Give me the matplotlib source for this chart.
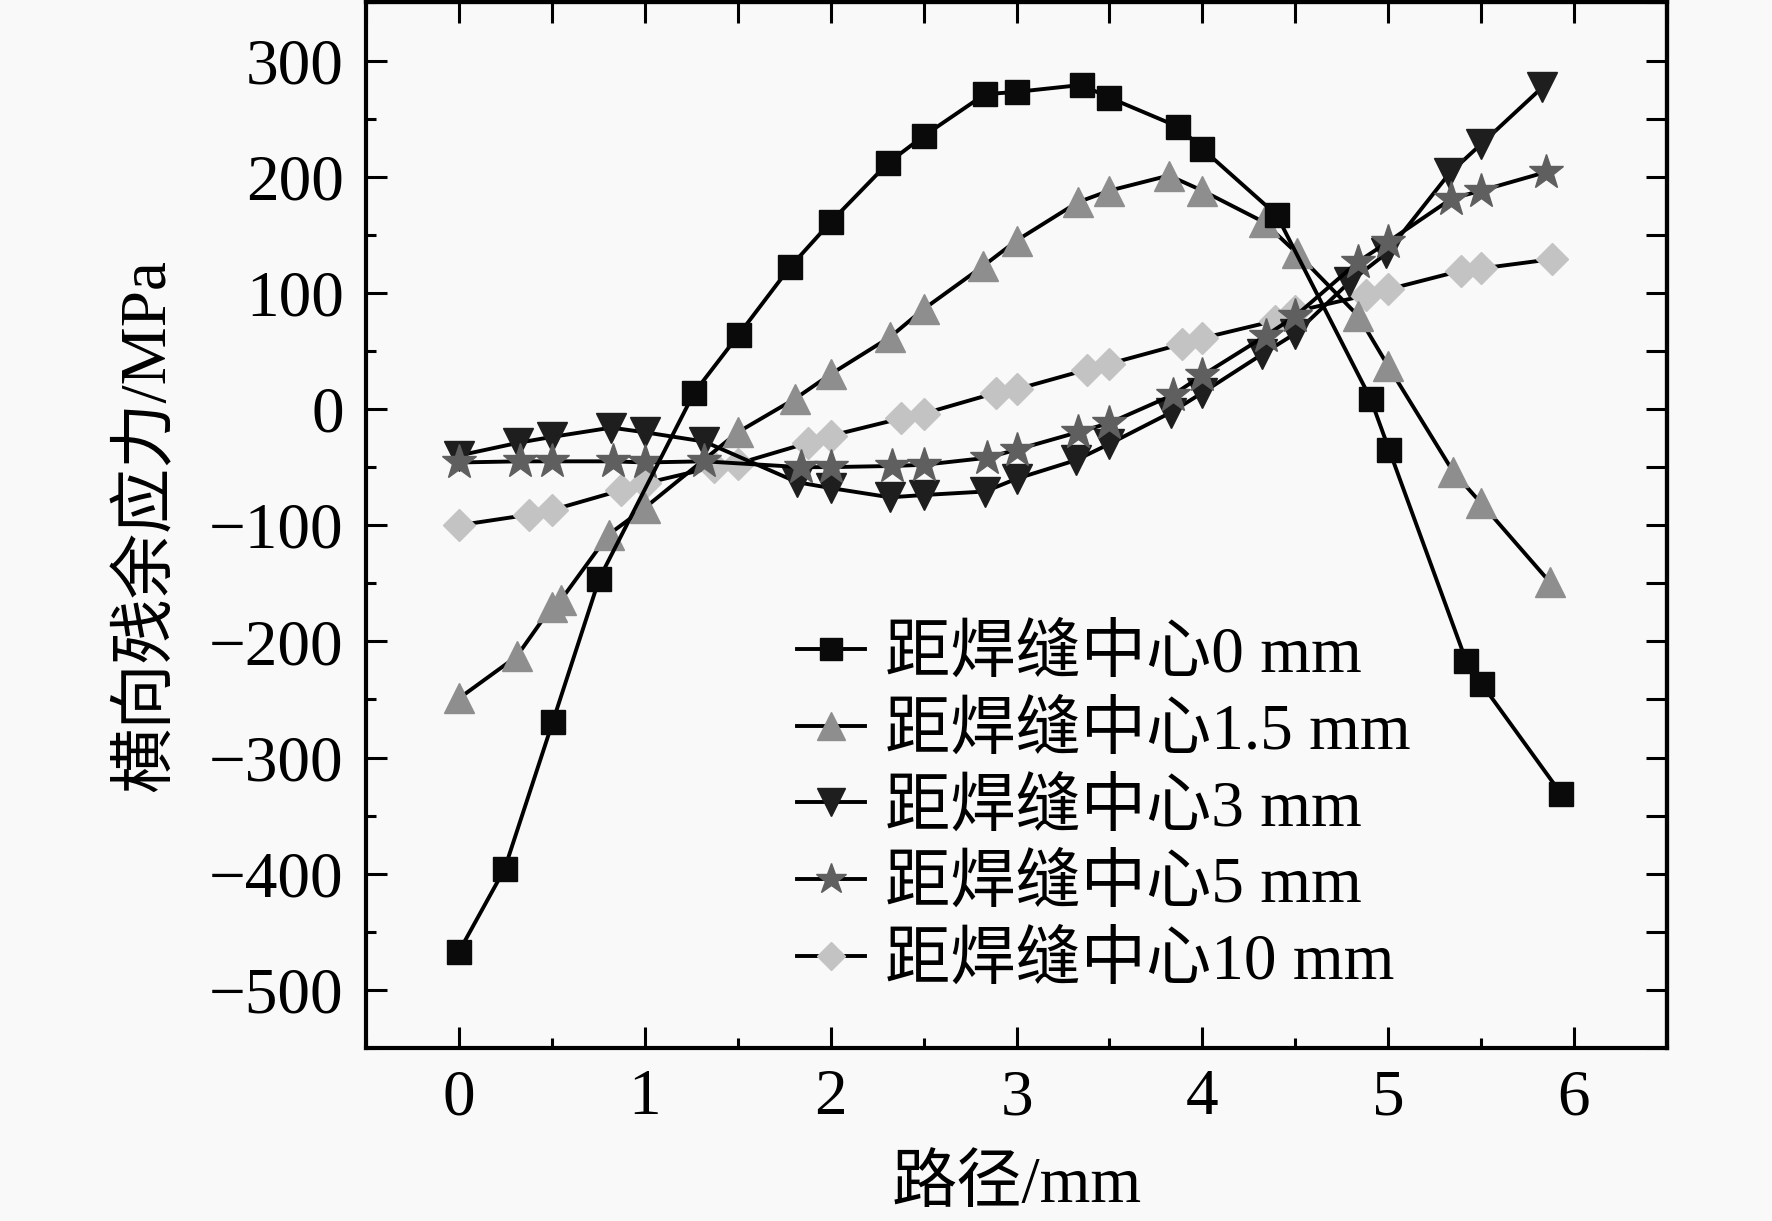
import matplotlib
matplotlib.use("Agg")
import matplotlib.pyplot as plt
from matplotlib.ticker import MultipleLocator, NullFormatter

plt.rcParams['font.family'] = ['Liberation Serif', 'Noto Sans CJK SC']

# ---- data ----
x_0 = [0, 0.245, 0.505, 0.755, 1.265, 1.505, 1.78, 2.0, 2.31, 2.5, 2.83, 3.0, 3.35, 3.5, 3.87, 4.0, 4.4, 4.905, 5.005, 5.42, 5.505, 5.93]
y_0 = [-467, -396, -269, -146, 14, 64, 122, 161, 212, 235, 271, 273, 279, 268, 243, 224, 167, 9, -35, -217, -237, -331]

x_15 = [0, 0.31, 0.5, 0.55, 0.805, 1.0, 1.5, 1.81, 2.0, 2.32, 2.5, 2.82, 3.0, 3.33, 3.5, 3.82, 4.0, 4.33, 4.51, 4.84, 5.0, 5.35, 5.5, 5.87]
y_15 = [-249, -213, -170, -164, -108, -85, -20, 9, 30, 62, 86, 123, 145, 178, 188, 201, 188, 161, 134, 80, 37, -54, -81, -149]

x_3 = [0, 0.32, 0.5, 0.82, 1.0, 1.32, 1.82, 2.0, 2.32, 2.5, 2.83, 3.0, 3.32, 3.5, 3.83, 4.0, 4.32, 4.5, 4.79, 4.99, 5.33, 5.5, 5.83]
y_3 = [-40, -29, -24, -16, -20, -28, -63, -68, -76, -74, -71, -60, -44, -30, -3, 14, 47, 65, 109, 134, 203, 228, 277]

x_5 = [0, 0.33, 0.5, 0.83, 1.0, 1.32, 1.84, 2.0, 2.33, 2.5, 2.84, 3.0, 3.33, 3.5, 3.84, 4.0, 4.34, 4.5, 4.84, 5.0, 5.34, 5.5, 5.85]
y_5 = [-46, -45, -45, -45, -46, -45, -50, -50, -49, -48, -42, -35, -20, -12, 12, 29, 63, 80, 127, 144, 181, 188, 204]

x_10 = [0, 0.375, 0.5, 0.87, 1.0, 1.37, 1.5, 1.88, 2.0, 2.38, 2.5, 2.89, 3.0, 3.38, 3.5, 3.89, 4.0, 4.39, 4.5, 4.88, 5.0, 5.39, 5.5, 5.88]
y_10 = [-100, -91, -87, -70, -64, -50, -47, -29, -23, -8, -4, 14, 17, 34, 39, 56, 61, 76, 84, 98, 103, 119, 121, 129]

labels = ['距焊缝中心0 mm', '距焊缝中心1.5 mm', '距焊缝中心3 mm', '距焊缝中心5 mm', '距焊缝中心10 mm']
xticks = [0, 1, 2, 3, 4, 5, 6]
yticks = [-500, -400, -300, -200, -100, 0, 100, 200, 300]
xlabel = '路径/mm'
ylabel = '横向残余应力/MPa'

# ---- figure ----
fig = plt.figure(figsize=(17.72, 12.21), dpi=100, facecolor='#f9f9f9')
ax = fig.add_axes([0.2066, 0.1417, 0.7341, 0.8563])
ax.set_facecolor('#f9f9f9')

series = [
    (x_0, y_0, 's', '#0a0a0a', 17, 6),
    (x_15, y_15, '^', '#8e8e8e', 22, 3),
    (x_3, y_3, 'v', '#1e1e1e', 22, 4),
    (x_5, y_5, '*', '#5f5f5f', 26, 4),
    (x_10, y_10, 'D', '#c3c3c3', 16, 2),
]
for (xs, ys, m, c, ms, z), lab in zip(series, labels):
    ax.plot(xs, ys, color='black', lw=2.8, marker=m, markersize=ms,
            markerfacecolor=c, markeredgecolor=c, markeredgewidth=1,
            label=lab, zorder=z)

ax.set_xlim(-0.5, 6.5)
ax.set_ylim(-550, 350)
ax.set_xticks(xticks)
ax.set_yticks(yticks)
ax.xaxis.set_minor_locator(MultipleLocator(0.5))
ax.yaxis.set_minor_locator(MultipleLocator(50))

for s in ax.spines.values():
    s.set_linewidth(3)

ax.tick_params(axis='both', which='major', direction='in', length=15, width=2.2,
               labelsize=47, top=False, right=False)
ax.tick_params(axis='both', which='minor', direction='in', length=7.5, width=2.2,
               top=False, right=False)
ax.tick_params(axis='x', which='major', pad=15)
ax.tick_params(axis='y', which='major', pad=16)

# top and right: every tick full length, no labels
secx = ax.secondary_xaxis('top')
secx.set_xticks([v * 0.5 for v in range(-1, 14)])
secx.xaxis.set_major_formatter(NullFormatter())
secx.tick_params(direction='in', length=15, width=2.2)
secx.spines['top'].set_linewidth(3)

secy = ax.secondary_yaxis('right')
secy.set_yticks(list(range(-550, 351, 50)))
secy.yaxis.set_major_formatter(NullFormatter())
secy.tick_params(direction='in', length=15, width=2.2)
secy.spines['right'].set_linewidth(3)

ax.set_xlabel(xlabel, fontsize=47, labelpad=20)
ax.set_ylabel(ylabel, fontsize=47, labelpad=22)

leg = ax.legend(loc='upper left', bbox_to_anchor=(0.331, 0.404), frameon=False,
                fontsize=47, handlelength=1.04, handletextpad=0.31,
                labelspacing=0.25, borderaxespad=0, borderpad=0, markerscale=0.9)

fig.savefig('out.png', dpi=100, facecolor=fig.get_facecolor())
